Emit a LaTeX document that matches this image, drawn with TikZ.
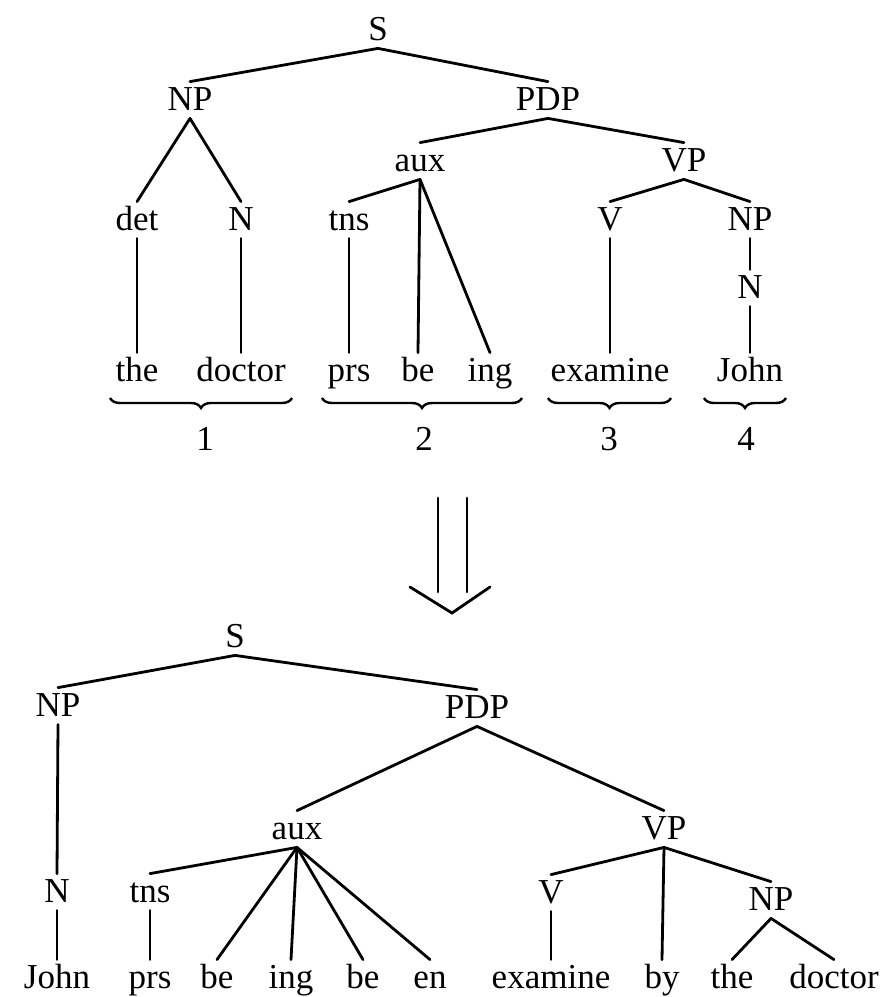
\documentclass[tikz,border=0pt]{standalone}
\usepackage{fontspec}
\setmainfont{Liberation Serif}
\usetikzlibrary{decorations.pathreplacing}

\begin{document}
\begin{tikzpicture}[x=0.5pt, y=-0.5pt,
		every node/.style={anchor=base, font=\fontsize{17.5}{20}\selectfont, inner xsep=1pt, inner ysep=0.5pt, text height=13.5pt, text depth=3.5pt},
		branch/.style={line width=1.4pt, line cap=round},
		under/.style={decorate, decoration={brace, mirror, amplitude=5pt}, line width=1.2pt}]

				\useasboundingbox (0,0) rectangle (889,997);

				\node (S) at (378,40) {S};
				\node (NP) at (190,110) {NP};
				\node (PDP) at (548,110) {PDP};
				\node (aux) at (420,171) {aux};
				\node (VP) at (684,171) {VP};
				\node (det) at (137,230) {det};
				\node (N) at (241,230) {N};
				\node (tns) at (349,230) {tns};
				\node (V) at (610,230) {V};
				\node (NPj) at (750,230) {NP};
				\node (Nj) at (750,298) {N};
				\node (the) at (137,381) {the};
				\node (doctor) at (241,381) {doctor};
				\node (prs) at (349,381) {prs};
				\node (be) at (418,381) {be};
				\node (ing) at (490,381) {ing};
				\node (examine) at (610,381) {examine};
				\node (John) at (750,381) {John};

				\draw[branch] (S.south) -- (NP.north);
				\draw[branch] (S.south) -- (PDP.north);
				\draw[branch] (NP.south) -- (det.north);
				\draw[branch] (NP.south) -- (N.north);
				\draw[branch] (PDP.south) -- (aux.north);
				\draw[branch] (PDP.south) -- (VP.north);
				\draw[branch] (aux.south) -- (tns.north);
				\draw[branch] (aux.south) -- (be.north);
				\draw[branch] (aux.south) -- (ing.north);
				\draw[branch] (VP.south) -- (V.north);
				\draw[branch] (VP.south) -- (NPj.north);
				\draw[branch] (NPj.south) -- (Nj.north);
				\draw[branch] (det.south) -- (the.north);
				\draw[branch] (N.south) -- (doctor.north);
				\draw[branch] (tns.south) -- (prs.north);
				\draw[branch] (V.south) -- (examine.north);
				\draw[branch] (Nj.south) -- (John.north);

				\draw[under] (110,398) -- (292,398);
				\draw[under] (322,398) -- (522,398);
				\draw[under] (548,398) -- (671,398);
				\draw[under] (704,398) -- (786,398);
				\node (one) at (205,450) {1};
				\node (two) at (424,450) {2};
				\node (three) at (609,450) {3};
				\node (four) at (746,450) {4};

				\draw[branch] (438,498) -- (438,592);
				\draw[branch] (467,498) -- (467,592);
				\draw[branch] (410,587) -- (452,613) -- (490,587);

				\node (pS) at (235,647) {S};
				\node (pNP) at (58,716) {NP};
				\node (pPDP) at (477,718) {PDP};
				\node (paux) at (297,839) {aux};
				\node (pVP) at (664,839) {VP};
				\node (pN) at (57,902) {N};
				\node (ptns) at (150,902) {tns};
				\node (pV) at (551,903) {V};
				\node (pNPd) at (771,910) {NP};
				\node (pJohn) at (57,988) {John};
				\node (pprs) at (150,988) {prs};
				\node (pbe) at (217,988) {be};
				\node (ping) at (291,988) {ing};
				\node (pbeb) at (363,988) {be};
				\node (pen) at (430,988) {en};
				\node (pexamine) at (551,988) {examine};
				\node (pby) at (662,988) {by};
				\node (pthe) at (732,988) {the};
				\node (pdoctor) at (834,988) {doctor};

				\draw[branch] (pS.south) -- (pNP.north);
				\draw[branch] (pS.south) -- (pPDP.north);
				\draw[branch] (pNP.south) -- (pN.north);
				\draw[branch] (pN.south) -- (pJohn.north);
				\draw[branch] (pPDP.south) -- (paux.north);
				\draw[branch] (pPDP.south) -- (pVP.north);
				\draw[branch] (paux.south) -- (ptns.north);
				\draw[branch] (paux.south) -- (pbe.north);
				\draw[branch] (paux.south) -- (ping.north);
				\draw[branch] (paux.south) -- (pbeb.north);
				\draw[branch] (paux.south) -- (pen.north);
				\draw[branch] (ptns.south) -- (pprs.north);
				\draw[branch] (pVP.south) -- (pV.north);
				\draw[branch] (pVP.south) -- (pby.north);
				\draw[branch] (pVP.south) -- (pNPd.north);
				\draw[branch] (pV.south) -- (pexamine.north);
				\draw[branch] (pNPd.south) -- (pthe.north);
				\draw[branch] (pNPd.south) -- (pdoctor.north);

			\end{tikzpicture}
\end{document}
